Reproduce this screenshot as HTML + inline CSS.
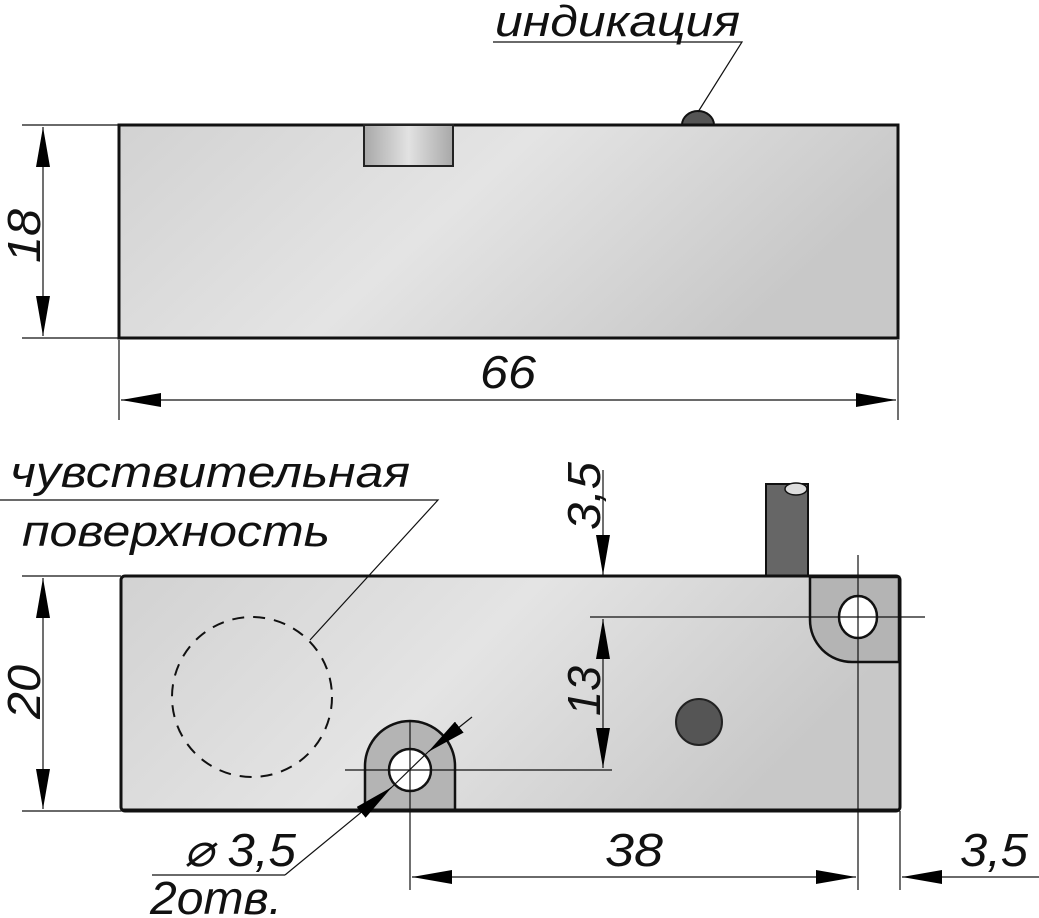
<!DOCTYPE html>
<html><head><meta charset="utf-8"><style>
html,body{margin:0;padding:0;background:#fff;}
svg{display:block}
text{font-family:"Liberation Sans",sans-serif;font-style:italic;fill:#111;}
</style></head><body>
<svg width="1039" height="918" viewBox="0 0 1039 918" xmlns="http://www.w3.org/2000/svg">
<defs>
<linearGradient id="g1" x1="0" y1="0" x2="1" y2="0.3">
<stop offset="0" stop-color="#d2d2d2"/><stop offset="0.5" stop-color="#e4e4e4"/><stop offset="1" stop-color="#c8c8c8"/>
</linearGradient>
<linearGradient id="g2" x1="0" y1="0" x2="1" y2="0">
<stop offset="0" stop-color="#a8a8a8"/><stop offset="0.5" stop-color="#e2e2e2"/><stop offset="1" stop-color="#a8a8a8"/>
</linearGradient>
<marker id="a" viewBox="0 0 40 14" refX="40" refY="7" markerWidth="40" markerHeight="14" markerUnits="userSpaceOnUse" orient="auto-start-reverse"><path d="M0,0 L40,7 L0,14 Z" fill="#000"/></marker>
</defs>

<path d="M682,125 A16,14 0 0 1 714,125 Z" fill="#555" stroke="#111" stroke-width="2"/>
<rect x="119" y="125" width="779" height="213" fill="url(#g1)" stroke="#111" stroke-width="3"/>
<rect x="364" y="125" width="89" height="41" fill="url(#g2)" stroke="#222" stroke-width="2"/>
<g stroke="#111" stroke-width="1.2" fill="none">
<line x1="22" y1="125" x2="119" y2="125"/>
<line x1="22" y1="338" x2="119" y2="338"/>
<line x1="43" y1="127" x2="43" y2="336" marker-start="url(#a)" marker-end="url(#a)"/>
<line x1="119" y1="340" x2="119" y2="420"/>
<line x1="898" y1="340" x2="898" y2="420"/>
<line x1="121" y1="400" x2="896" y2="400" marker-start="url(#a)" marker-end="url(#a)"/>
<polyline points="493,42 742,42 698,112"/>
</g>
<text x="495" y="36" font-size="44" textLength="245" lengthAdjust="spacingAndGlyphs">индикация</text>
<text x="480" y="388" font-size="46" textLength="56" lengthAdjust="spacingAndGlyphs">66</text>
<text transform="translate(40,236) rotate(-90)" font-size="46" text-anchor="middle" textLength="54" lengthAdjust="spacingAndGlyphs">18</text>

<rect x="766" y="484" width="42" height="94" fill="#666" stroke="#111" stroke-width="2"/>
<ellipse cx="796" cy="489" rx="11" ry="6" fill="#ddd" stroke="#111" stroke-width="1.5"/>
<rect x="121" y="576" width="779" height="235" rx="4" fill="url(#g1)" stroke="#111" stroke-width="3"/>
<path d="M810,577 L899,577 L899,662 L852,662 A42,42 0 0 1 810,620 Z" fill="#b4b4b4" stroke="#111" stroke-width="2.5"/>
<ellipse cx="858" cy="617" rx="19" ry="21" fill="#fff" stroke="#111" stroke-width="2.5"/>
<path d="M365,810 L365,766 A45,45 0 0 1 455,766 L455,810" fill="#b4b4b4" stroke="#111" stroke-width="2.5"/>
<circle cx="410" cy="770" r="21" fill="#fff" stroke="#111" stroke-width="2.5"/>
<line x1="121" y1="810" x2="900" y2="810" stroke="#111" stroke-width="3"/>
<circle cx="699" cy="722" r="23" fill="#555" stroke="#222" stroke-width="2"/>
<circle cx="252" cy="697" r="80" fill="none" stroke="#111" stroke-width="2" stroke-dasharray="12,9"/>
<g stroke="#111" stroke-width="1.2" fill="none">
<line x1="22" y1="576" x2="121" y2="576"/>
<line x1="22" y1="811" x2="121" y2="811"/>
<line x1="43" y1="578" x2="43" y2="809" marker-start="url(#a)" marker-end="url(#a)"/>
<line x1="603" y1="470" x2="603" y2="575" marker-end="url(#a)"/>
<line x1="603" y1="619" x2="603" y2="768" marker-start="url(#a)" marker-end="url(#a)"/>
<line x1="590" y1="617" x2="925" y2="617"/>
<line x1="345" y1="770" x2="612" y2="770"/>
<line x1="858" y1="555" x2="858" y2="890"/>
<line x1="900" y1="811" x2="900" y2="890"/>
<line x1="410" y1="720" x2="410" y2="890"/>
<line x1="412" y1="877" x2="856" y2="877" marker-start="url(#a)" marker-end="url(#a)"/>
<line x1="960" y1="877" x2="902" y2="877" marker-end="url(#a)"/>
<line x1="960" y1="877" x2="1039" y2="877"/>
<line x1="472" y1="717" x2="428" y2="752" marker-end="url(#a)"/>
<line x1="428" y1="752" x2="392" y2="787"/>
<line x1="285" y1="875" x2="392" y2="787" marker-end="url(#a)"/>
<line x1="152" y1="875" x2="285" y2="875"/>
<polyline points="0,500 438,500 310,640"/>
</g>
<text x="10" y="487" font-size="44" textLength="400" lengthAdjust="spacingAndGlyphs">чувствительная</text>
<text x="22" y="546" font-size="44" textLength="308" lengthAdjust="spacingAndGlyphs">поверхность</text>
<text transform="translate(40,692) rotate(-90)" font-size="46" text-anchor="middle" textLength="54" lengthAdjust="spacingAndGlyphs">20</text>
<text transform="translate(600,496) rotate(-90)" font-size="46" text-anchor="middle" textLength="68" lengthAdjust="spacingAndGlyphs">3,5</text>
<text transform="translate(600,691) rotate(-90)" font-size="46" text-anchor="middle" textLength="50" lengthAdjust="spacingAndGlyphs">13</text>
<text x="605" y="866" font-size="46" textLength="58" lengthAdjust="spacingAndGlyphs">38</text>
<text x="960" y="866" font-size="46" textLength="68" lengthAdjust="spacingAndGlyphs">3,5</text>
<text x="184" y="866" font-size="46" textLength="112" lengthAdjust="spacingAndGlyphs">⌀ 3,5</text>
<text x="150" y="914" font-size="46" textLength="132" lengthAdjust="spacingAndGlyphs">2отв.</text>
</svg>
</body></html>
